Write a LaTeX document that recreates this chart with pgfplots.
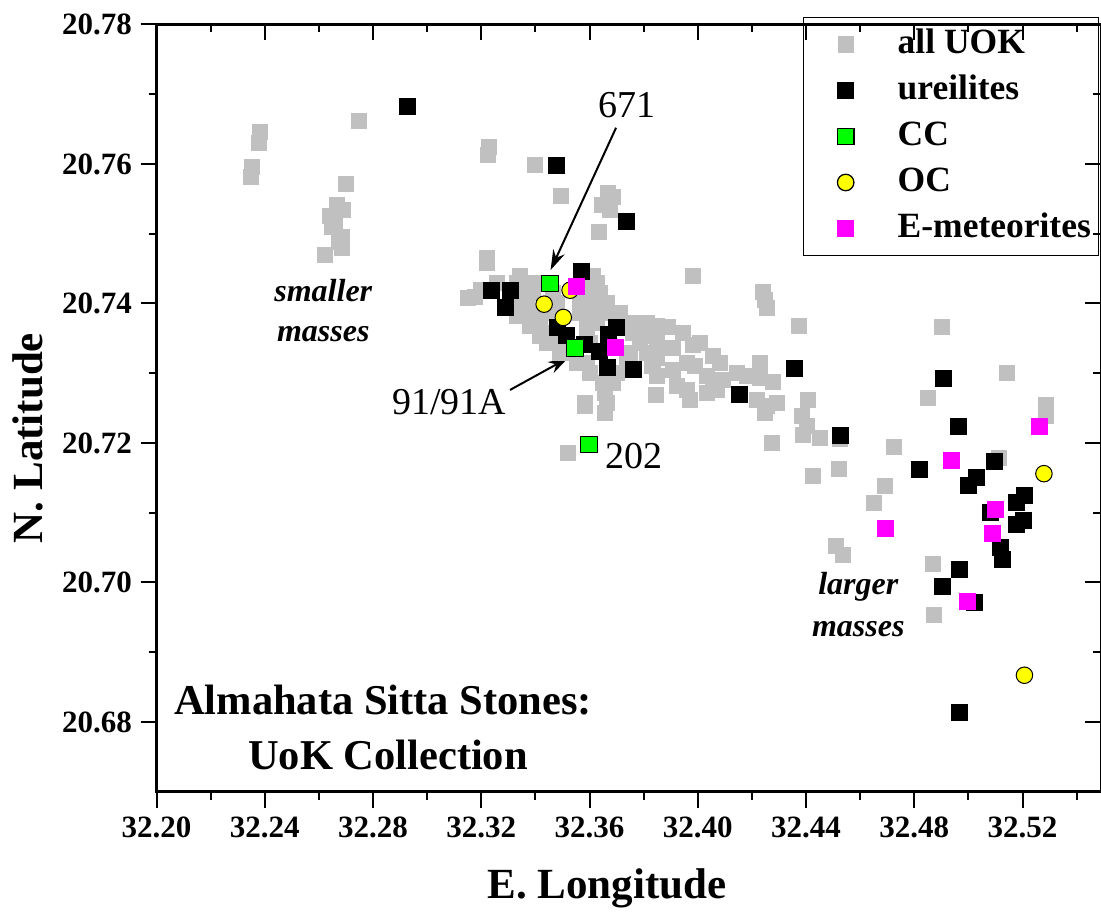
\documentclass[border=0pt]{standalone}
\usepackage{fontspec}
\setmainfont{Liberation Serif}
\usepackage{pgfplots}
\pgfplotsset{compat=1.18}
\usetikzlibrary{arrows.meta}

\definecolor{uokgray}{RGB}{192,192,192}
\definecolor{ccgreen}{RGB}{0,255,0}
\definecolor{ocyellow}{RGB}{255,255,0}
\definecolor{emag}{RGB}{255,0,255}

\pgfplotsset{
  asframe/.style={
    width=377.76pt, height=306.88pt, scale only axis,
    xmin=32.20, xmax=32.549, ymin=20.67, ymax=20.78,
    xtick={32.20,32.24,32.28,32.32,32.36,32.40,32.44,32.48,32.52},
    minor xtick={32.22,32.26,32.30,32.34,32.38,32.42,32.46,32.50,32.54},
    ytick={20.68,20.70,20.72,20.74,20.76,20.78},
    minor ytick={20.69,20.71,20.73,20.75,20.77},
    axis line style={line width=1.2pt},
    major tick length=6.4pt, minor tick length=3.2pt,
    tick style={black, line width=0.8pt},
    scaled ticks=false,
  }
}

\begin{document}
\begin{tikzpicture}
\begin{axis}[asframe, name=ax,
  tick align=outside, xtick pos=left, ytick pos=left,
  /pgf/number format/assume math mode=true,
  ticklabel style={font=\fontsize{12.4}{14}\selectfont\bfseries},
  xticklabel style={/pgf/number format/.cd, fixed, fixed zerofill, precision=2},
  yticklabel style={/pgf/number format/.cd, fixed, fixed zerofill, precision=2},
  xlabel={E. Longitude}, ylabel={N. Latitude},
  label style={font=\fontsize{17.2}{20}\selectfont\bfseries},
  xlabel style={at={(axis description cs:0.4769,-0.1386)}, anchor=base},
  ylabel style={at={(axis description cs:-0.1203,0.461)}, anchor=base},
  legend style={at={(rel axis cs:0.6845,1.0098)}, anchor=north west,
    draw=black, line width=0.5pt, inner xsep=3pt, inner ysep=4pt,
    font=\fontsize{14.2}{17}\selectfont\bfseries, row sep=4.9pt, column sep=7pt,
    nodes={inner sep=0pt, text height=10.5pt, text depth=3pt},
    cells={anchor=west}},
  legend image code/.code={%
    \path[draw=none, fill=none] (0pt,-1pt) rectangle (27.6pt,1pt);
    \draw[mark repeat=2,mark phase=2,#1]
    plot coordinates {(0pt,0pt) (13.8pt,0pt) (27.6pt,0pt)};},
]
% all UOK stones
\addplot[only marks, mark=square*, color=uokgray, mark size=3pt] coordinates {
(32.2382,20.7646) (32.2380,20.7630) (32.2351,20.7596) (32.2348,20.7582)
(32.2749,20.7661) (32.2699,20.7572) (32.2668,20.7541) (32.2641,20.7525)
(32.2690,20.7534) (32.2647,20.7510) (32.2684,20.7496) (32.2684,20.7479)
(32.2623,20.7470) (32.2660,20.7515) (32.2675,20.7488)
(32.3228,20.7625) (32.3226,20.7613) (32.3398,20.7599) (32.3220,20.7465)
(32.3222,20.7458) (32.3152,20.7408) (32.3494,20.7554) (32.3669,20.7558)
(32.3645,20.7541) (32.3676,20.7534) (32.3688,20.7553) (32.3635,20.7502)
(32.3614,20.7440) (32.3983,20.7440) (32.4240,20.7416) (32.4248,20.7405)
(32.4257,20.7394) (32.4375,20.7367)
(32.3257,20.7429) (32.3331,20.7429) (32.3380,20.7429) (32.3417,20.7429)
(32.3589,20.7429) (32.3626,20.7429)
(32.3343,20.7415) (32.3392,20.7415) (32.3466,20.7415) (32.3589,20.7415) (32.3639,20.7415)
(32.3331,20.7401) (32.3368,20.7401) (32.3479,20.7401) (32.3565,20.7401) (32.3614,20.7401) (32.3663,20.7401)
(32.3355,20.7386) (32.3405,20.7386) (32.3454,20.7386) (32.3565,20.7386) (32.3614,20.7386) (32.3663,20.7386) (32.3713,20.7386)
(32.3417,20.7372) (32.3589,20.7372) (32.3626,20.7372) (32.3762,20.7372) (32.3811,20.7372)
(32.3442,20.7358) (32.3589,20.7358) (32.3762,20.7358) (32.3836,20.7358)
(32.3466,20.7343) (32.3516,20.7343) (32.3602,20.7343) (32.3786,20.7343) (32.3848,20.7343)
(32.3491,20.7329) (32.3540,20.7329) (32.3749,20.7329) (32.3811,20.7329)
(32.3553,20.7315) (32.3589,20.7315) (32.3737,20.7315) (32.3836,20.7315)
(32.3602,20.7300) (32.3700,20.7300) (32.3651,20.7286) (32.3688,20.7286)
(32.3657,20.7272) (32.3663,20.7257) (32.3583,20.7257) (32.3657,20.7243)
(32.3519,20.7186)
(32.3177,20.7410) (32.3200,20.7420) (32.3343,20.7440) (32.3331,20.7382)
(32.3380,20.7367) (32.3417,20.7353) (32.3442,20.7343)
(32.3713,20.7372) (32.3774,20.7367) (32.3799,20.7353) (32.3848,20.7367)
(32.3891,20.7366) (32.3946,20.7358) (32.3983,20.7341) (32.3910,20.7336)
(32.3848,20.7322) (32.3830,20.7310) (32.3848,20.7296) (32.3910,20.7305)
(32.3922,20.7281) (32.3959,20.7276) (32.3971,20.7262) (32.4033,20.7272)
(32.4033,20.7296) (32.3990,20.7310) (32.4082,20.7315) (32.4094,20.7291)
(32.4070,20.7276) (32.4144,20.7300) (32.4181,20.7296) (32.4230,20.7315)
(32.4230,20.7293) (32.4279,20.7288) (32.4218,20.7262) (32.4255,20.7253)
(32.4292,20.7257) (32.4248,20.7243) (32.3846,20.7269) (32.3663,20.7296)
(32.3657,20.7276) (32.3583,20.7253) (32.4408,20.7262) (32.4384,20.7238)
(32.4402,20.7224) (32.4390,20.7212) (32.4452,20.7207) (32.4526,20.7205)
(32.4275,20.7200) (32.4427,20.7152) (32.4523,20.7162) (32.4008,20.7343)
(32.4057,20.7324) (32.3959,20.7315) (32.4057,20.7281)
(32.5142,20.7301) (32.4852,20.7265) (32.5287,20.7255) (32.5287,20.7238)
(32.4726,20.7194) (32.5114,20.7179) (32.4692,20.7138) (32.4651,20.7114)
(32.4511,20.7052) (32.4536,20.7039) (32.4870,20.7027) (32.4874,20.6954)
(32.4901,20.7366)
};
\addlegendentry{all UOK}
% ureilites
\addplot[only marks, mark=square*, color=black, mark size=3.2pt] coordinates {
(32.2928,20.7682) (32.3478,20.7598) (32.3737,20.7518) (32.3571,20.7446)
(32.3236,20.7419) (32.3309,20.7419) (32.3288,20.7394) (32.3483,20.7365)
(32.3513,20.7354) (32.3583,20.7341) (32.3700,20.7366) (32.3669,20.7355)
(32.3636,20.7331) (32.3666,20.7308) (32.3762,20.7306) (32.4359,20.7307)
(32.4153,20.7269) (32.4526,20.7211) (32.4908,20.7293) (32.4964,20.7224)
(32.4818,20.7162) (32.5098,20.7174) (32.5031,20.7151) (32.5000,20.7139)
(32.5179,20.7115) (32.5209,20.7124) (32.5080,20.7100) (32.5203,20.7089)
(32.5179,20.7083) (32.5117,20.7050) (32.5125,20.7033) (32.4966,20.7019)
(32.4904,20.6994) (32.5024,20.6971) (32.4967,20.6814)
};
\addlegendentry{ureilites}
% carbonaceous chondrites
\addplot[only marks, mark=square*, mark size=3.3pt, draw=black, fill=ccgreen] coordinates {
(32.3454,20.7429) (32.3546,20.7336) (32.3598,20.7198)
};
\addlegendentry{CC}
% ordinary chondrites
\addplot[only marks, mark=*, mark size=3.3pt, draw=black, fill=ocyellow] coordinates {
(32.3432,20.7399) (32.3528,20.7419) (32.3503,20.7380) (32.5279,20.7156) (32.5207,20.6867)
};
\addlegendentry{OC}
% enstatite meteorites
\addplot[only marks, mark=square*, color=emag, mark size=3.2pt] coordinates {
(32.3550,20.7424) (32.3697,20.7337) (32.5262,20.7224) (32.4938,20.7175)
(32.4692,20.7077) (32.5101,20.7104) (32.5090,20.7070) (32.4997,20.6972)
};
\addlegendentry{E-meteorites}

\begin{scope}[every node/.style={inner sep=0pt}]
\node[anchor=base, font=\fontsize{15.2}{18}\selectfont] at (axis cs:32.3737,20.7666) {671};
\node[anchor=base, font=\fontsize{15.2}{18}\selectfont] at (axis cs:32.3081,20.7241) {91/91A};
\node[anchor=base west, font=\fontsize{15.2}{18}\selectfont] at (axis cs:32.3657,20.7164) {202};
\node[anchor=base, font=\fontsize{12.8}{16}\selectfont\bfseries\itshape] at (axis cs:32.2616,20.7403) {smaller};
\node[anchor=base, font=\fontsize{12.8}{16}\selectfont\bfseries\itshape] at (axis cs:32.2616,20.7346) {masses};
\node[anchor=base, font=\fontsize{12.8}{16}\selectfont\bfseries\itshape] at (axis cs:32.4593,20.6983) {larger};
\node[anchor=base, font=\fontsize{12.8}{16}\selectfont\bfseries\itshape] at (axis cs:32.4593,20.6923) {masses};
\node[anchor=base, font=\fontsize{17}{20}\selectfont\bfseries] at (axis cs:32.2837,20.6811) {Almahata Sitta Stones:};
\node[anchor=base, font=\fontsize{17}{20}\selectfont\bfseries] at (axis cs:32.2855,20.6732) {UoK Collection};
\end{scope}
\draw[line width=0.8pt, -{Stealth[length=8pt,width=5pt]}] (axis cs:32.3698,20.7652) -- (axis cs:32.3456,20.7448);
\draw[line width=0.8pt, -{Stealth[length=8pt,width=5pt]}] (axis cs:32.3306,20.7276) -- (axis cs:32.3521,20.7322);
\end{axis}
% mirrored ticks on top and right, pointing inward
\begin{axis}[asframe, at={(ax.south west)}, anchor=south west,
  tick align=inside, xtick pos=right, ytick pos=right,
  xticklabels={}, yticklabels={}]
\end{axis}
\pgfresetboundingbox
\path[use as bounding box] (ax.south west) ++(-62.64pt,-47.72pt) rectangle ++(440.4pt,364.4pt);
\end{tikzpicture}
\end{document}
